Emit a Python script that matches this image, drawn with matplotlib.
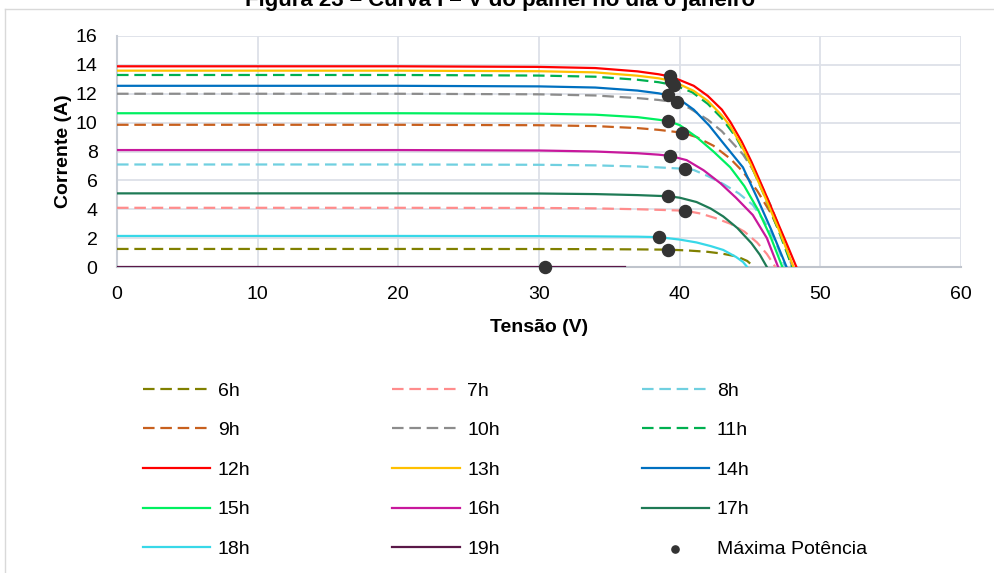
import matplotlib
matplotlib.use("Agg")
import matplotlib.pyplot as plt
from matplotlib.lines import Line2D

plt.rcParams['font.family'] = ['Liberation Sans', 'DejaVu Sans']

# I-V curves (tensão V, corrente A)
v6 = [0, 20, 30, 34, 37, 39.2, 40.5, 42, 43, 44.1, 44.8, 45.3]
i6 = [1.25, 1.25, 1.245, 1.235, 1.22, 1.2, 1.15, 1.05, 0.93, 0.72, 0.42, 0]
v7 = [0, 20, 30, 34, 37, 38.5, 40.4, 41.5, 42.5, 43.6, 44.6, 45.5, 46.2, 46.8]
i7 = [4.1, 4.1, 4.09, 4.06, 4.0, 3.96, 3.9, 3.7, 3.4, 3.0, 2.45, 1.7, 0.9, 0]
v8 = [0, 20, 30, 34, 37, 38.5, 40.4, 41, 42, 43.1, 44.2, 45.2, 46, 46.8, 47.5]
i8 = [7.1, 7.1, 7.08, 7.04, 6.96, 6.9, 6.8, 6.72, 6.3, 5.75, 5.1, 4.3, 3.2, 1.8, 0]
v9 = [0, 20, 30, 34, 37, 38.5, 40.2, 41.2, 42.4, 43.6, 44.5, 45.5, 46.5, 47.3, 48.0]
i9 = [9.85, 9.85, 9.82, 9.76, 9.62, 9.5, 9.3, 9.0, 8.4, 7.5, 6.6, 5.3, 3.7, 2.0, 0]
v10 = [0, 20, 30, 34, 37, 38.5, 39.8, 40.7, 42, 43, 44.5, 45.5, 46.5, 47.3, 48.0]
i10 = [12.0, 12.0, 11.96, 11.88, 11.7, 11.57, 11.4, 11.0, 10.2, 9.4, 7.8, 6.3, 4.2, 2.2, 0]
v11 = [0, 20, 30, 34, 37, 38.5, 39.6, 40.9, 42, 43, 44, 45, 46, 47, 48.0]
i11 = [13.3, 13.3, 13.26, 13.18, 12.97, 12.8, 12.6, 12.1, 11.3, 10.3, 9.0, 7.2, 5.0, 2.6, 0]
v12 = [0, 20, 30, 34, 37, 38.5, 39.3, 40, 41, 42, 43, 43.6, 44.4, 45.1, 46, 47, 47.7, 48.3]
i12 = [13.9, 13.9, 13.86, 13.78, 13.55, 13.35, 13.2, 12.95, 12.55, 11.85, 10.9, 10.05,
       8.7, 7.3, 5.3, 3.0, 1.4, 0]
v13 = [0, 20, 30, 34, 37, 38.5, 39.3, 40, 41, 42, 43, 43.6, 44.4, 45.1, 46, 47, 48.1]
i13 = [13.6, 13.6, 13.56, 13.48, 13.25, 13.07, 12.92, 12.65, 12.2, 11.5, 10.5, 9.75,
       8.4, 7.0, 5.0, 2.7, 0]
v14 = [0, 20, 30, 34, 37, 38.5, 39.2, 40, 41, 42.1, 43, 44.5, 45.5, 46.5, 47.6]
i14 = [12.55, 12.55, 12.51, 12.43, 12.22, 12.03, 11.9, 11.6, 10.9, 9.8, 8.7, 6.9, 4.8, 2.6, 0]
v15 = [0, 20, 30, 34, 37, 38.5, 39.2, 40, 41.2, 42.4, 43.6, 44.6, 45.6, 46.5, 47.3]
i15 = [10.65, 10.65, 10.62, 10.55, 10.38, 10.2, 10.1, 9.83, 9.0, 8.0, 6.9, 5.6, 3.9, 2.0, 0]
v16 = [0, 20, 30, 34, 37, 38.5, 39.3, 40.5, 41.7, 42.9, 44, 45.2, 46.2, 47.0]
i16 = [8.1, 8.1, 8.07, 8.0, 7.88, 7.78, 7.7, 7.4, 6.7, 5.8, 4.8, 3.6, 2.0, 0]
v17 = [0, 20, 30, 34, 37, 39.2, 40, 41.2, 42.2, 43.1, 44.1, 45.1, 45.7, 46.2]
i17 = [5.1, 5.1, 5.09, 5.05, 4.98, 4.9, 4.8, 4.5, 4.05, 3.5, 2.7, 1.65, 0.85, 0]
v18 = [0, 20, 30, 34, 37, 38.5, 40, 41.2, 42.2, 43.1, 44, 44.5, 44.8]
i18 = [2.15, 2.15, 2.14, 2.12, 2.1, 2.07, 1.9, 1.7, 1.45, 1.18, 0.7, 0.35, 0]
v19 = [0, 20, 30.4, 36.1]
i19 = [0.03, 0.03, 0.03, 0.03]

# pontos de maxima potencia
mp_v = [39.2, 40.4, 40.4, 40.2, 39.8, 39.6, 39.3, 39.4, 39.2, 39.2, 39.3, 39.2, 38.5, 30.4]
mp_i = [1.2, 3.9, 6.8, 9.3, 11.4, 12.6, 13.2, 12.9, 11.9, 10.1, 7.7, 4.9, 2.08, 0.0]

labels = ['6h', '7h', '8h', '9h', '10h', '11h', '12h', '13h', '14h',
          '15h', '16h', '17h', '18h', '19h']
colors = ['#808000', '#FF8C8C', '#70D0E0', '#C8601E', '#8C8C8C', '#00B050',
          '#FF0000', '#FFC000', '#0070C0', '#00F060', '#C8189C', '#1E7A55',
          '#38D8E8', '#5A1848']
dashed = [True, True, True, True, True, True, False, False, False,
          False, False, False, False, False]

curves = [(v6, i6), (v7, i7), (v8, i8), (v9, i9), (v10, i10), (v11, i11),
          (v12, i12), (v13, i13), (v14, i14), (v15, i15), (v16, i16),
          (v17, i17), (v18, i18), (v19, i19)]

fig = plt.figure(figsize=(9.95, 5.73), dpi=100)
W, H = 995.0, 573.0
ax = fig.add_axes([117 / W, 1 - 267 / H, (961 - 117) / W, (267 - 36) / H])

handles = []
for (v, i), lab, c, d in zip(curves, labels, colors, dashed):
    if d:
        ln, = ax.plot(v, i, color=c, lw=1.6, dashes=(5.2, 2.6), label=lab, zorder=3,
                      solid_joinstyle='round')
    else:
        ln, = ax.plot(v, i, color=c, lw=1.6, label=lab, zorder=3,
                      solid_joinstyle='round')
    handles.append(ln)

mp = ax.scatter(mp_v, mp_i, s=75, color='#333333', zorder=5, label='Máxima Potência',
                clip_on=False)
handles.append(mp)

ax.set_xlim(0, 60)
ax.set_ylim(0, 16)
ax.set_xticks(range(0, 61, 10))
ax.set_yticks(range(0, 17, 2))
ax.grid(True, color='#DDE1E8', lw=1.3, zorder=0)
ax.set_axisbelow(True)
ax.tick_params(length=0, labelsize=14, colors='#000000')
ax.tick_params(axis='y', pad=14)
ax.tick_params(axis='x', pad=14)
for s in ['top', 'right']:
    ax.spines[s].set_visible(False)
ax.spines['left'].set_color('#C8CDD5')
ax.spines['left'].set_linewidth(1.5)
ax.spines['bottom'].set_color('#BFC4CC')
ax.spines['bottom'].set_linewidth(1.5)

ax.set_xlabel('Tensão (V)', fontsize=14, fontweight='bold', labelpad=11)
ax.set_ylabel('Corrente (A)', fontsize=14, fontweight='bold', labelpad=3)

# legenda preenchida por linha (3 colunas)
order = [0, 3, 6, 9, 12, 1, 4, 7, 10, 13, 2, 5, 8, 11, 14]
leg_h = [handles[k] for k in order]
leg_l = [h.get_label() for h in leg_h]
fig.legend(leg_h, leg_l, ncol=3, loc='upper left',
           bbox_to_anchor=(143 / W, 1 - 382 / H), frameon=False, fontsize=14,
           handlelength=3.45, handletextpad=0.4, columnspacing=7.3,
           labelspacing=1.13, borderpad=0, borderaxespad=0,
           markerscale=0.6)

# titulo (cortado no topo, como no original)
fig.text(0.503, 1 - 6 / H, 'Figura 23 – Curva I – V do painel no dia 6 janeiro',
         ha='center', va='baseline', fontsize=16, fontweight='bold')

# moldura do grafico
fig.add_artist(Line2D([5 / W, 1.0], [1 - 9 / H, 1 - 9 / H], color='#D9D9D9', lw=1))
fig.add_artist(Line2D([5 / W, 5 / W], [0, 1 - 9 / H], color='#D9D9D9', lw=1))

fig.savefig('out.png', dpi=100)
